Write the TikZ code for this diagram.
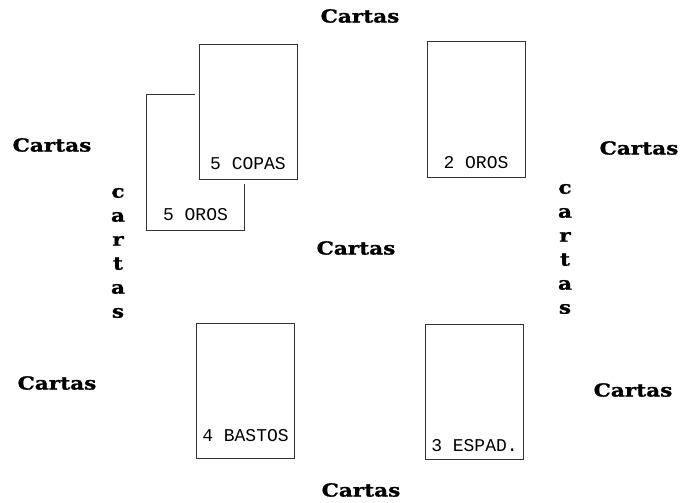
\documentclass[tikz,border=0pt]{standalone}
\usepackage{fontspec}
\usepackage{tikz}
\usetikzlibrary{positioning}
\newfontfamily\cartasfont{DejaVu Serif Bold}[FakeStretch=1.2,FakeBold=1.2]
\newfontfamily\naipefont{Liberation Mono}

\begin{document}
\begin{tikzpicture}[
    x=1pt, y=-1pt,
    node distance=10pt,
    card/.style={draw=black!80, line width=1pt, fill=white,
                 minimum width=98pt, minimum height=135pt, inner sep=0pt},
    topcard/.style={card, preaction={draw=white, line width=9pt}},
    cardtext/.style={font=\naipefont\fontsize{18}{18}\selectfont, inner sep=0pt},
    cartas/.style={font=\cartasfont\fontsize{18}{24}\selectfont, inner sep=0pt, align=center}
  ]
    \useasboundingbox (0,0) rectangle (683,503);
    % cards on the table
    \node[card] (orosA) at (195.5,162.5) {};
    \node[topcard] (copas) at (248,112) {};
    \node[card] (orosB) at (476,109.5) {};
    \node[card] (bastos) at (245.5,390.5) {};
    \node[card] (espad) at (474.5,392) {};
    \node[cardtext, above=10pt of orosA.south] (orosAlbl) {5 OROS};
    \node[cardtext, above=10pt of copas.south] (copaslbl) {5 COPAS};
    \node[cardtext, above=9pt of orosB.south] (orosBlbl) {2 OROS};
    \node[cardtext, above=17pt of bastos.south] (bastoslbl) {4 BASTOS};
    \node[cardtext, above=8pt of espad.south] (espadlbl) {3 ESPAD.};
    % piles
    \node[cartas] (pileN) at (360,16) {Cartas};
    \node[cartas] (pileC) at (356,248) {Cartas};
    \node[cartas] (pileS) at (361,490) {Cartas};
    \node[cartas] (pileNW) at (52,145) {Cartas};
    \node[cartas] (pileSW) at (57,383) {Cartas};
    \node[cartas] (pileNE) at (639,148) {Cartas};
    \node[cartas] (pileSE) at (633,390) {Cartas};
    \node[cartas] (pileW) at (118,253) {c\\a\\r\\t\\a\\s};
    \node[cartas] (pileE) at (565,249) {c\\a\\r\\t\\a\\s};
  \end{tikzpicture}
\end{document}
